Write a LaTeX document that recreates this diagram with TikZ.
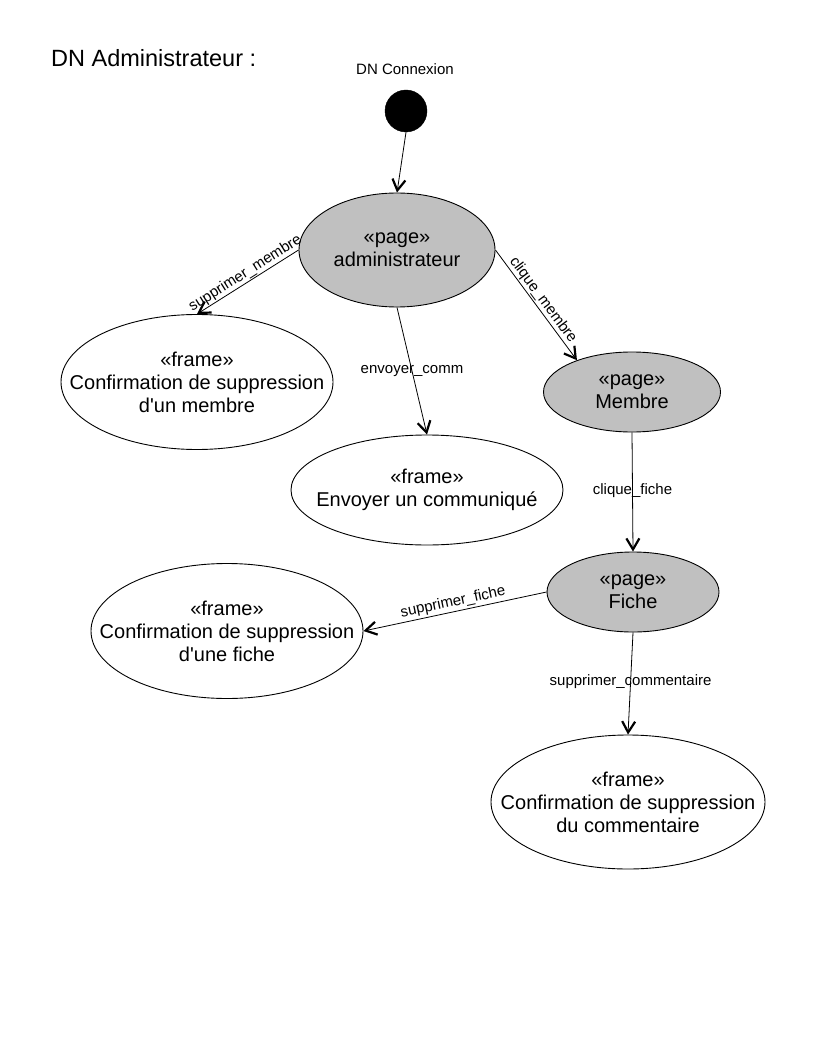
\documentclass[tikz,border=0pt]{standalone}
\usepackage{fontspec}
\setmainfont{Liberation Sans}[Ligatures=TeXOff]
\usetikzlibrary{shapes.geometric,arrows.meta}
\definecolor{pagegray}{RGB}{192,192,192}
\tikzset{
  state/.style={ellipse,draw=black,line width=0.9pt,inner sep=0pt},
  pagestate/.style={state,fill=pagegray},
  framestate/.style={state,fill=white},
  statetext/.style={align=center,inner sep=0pt,font=\fontsize{20}{23}\selectfont},
  flow/.style={draw=black,line width=0.8pt,
    -{Straight Barb[length=11pt,width=13pt,line width=2.2pt]}},
  lbl/.style={font=\fontsize{15}{17}\selectfont,inner sep=2pt},
}
\begin{document}
\begin{tikzpicture}[x=1pt,y=-1pt]
\useasboundingbox[fill=white] (0,0) rectangle (816,1056);

\node[anchor=base west,font=\fontsize{23.5}{27}\selectfont,inner sep=0pt] (title) at (51,67) {DN Administrateur :};

% initial node
\node[circle,fill=black,draw=black,minimum size=42pt,inner sep=0pt] (init) at (406,111) {};
\node[lbl,anchor=base] (initlbl) at (405,75) {DN Connexion};

% pages
\node[pagestate,minimum width=196pt,minimum height=114pt] (admin) at (397,250) {};
\node[statetext] (admintxt) at (admin) {«page»\\administrateur};
\node[pagestate,minimum width=177pt,minimum height=80pt] (membre) at (632,392) {};
\node[statetext] (membretxt) at (membre) {«page»\\Membre};
\node[pagestate,minimum width=172pt,minimum height=80pt] (fiche) at (633,592) {};
\node[statetext] (fichetxt) at (fiche) {«page»\\Fiche};

% frames
\node[framestate,minimum width=272pt,minimum height=135pt] (supmembre) at (197,382) {};
\node[statetext] (supmembretxt) at (supmembre) {«frame»\\Confirmation de suppression\\d'un membre};
\node[framestate,minimum width=272pt,minimum height=110pt] (comm) at (427,490) {};
\node[statetext] (commtxt) at (comm) {«frame»\\Envoyer un communiqué};
\node[framestate,minimum width=272pt,minimum height=135pt] (supfiche) at (227,631) {};
\node[statetext] (supfichetxt) at (supfiche) {«frame»\\Confirmation de suppression\\d'une fiche};
\node[framestate,minimum width=274pt,minimum height=134pt] (supcomm) at (628,802) {};
\node[statetext] (supcommtxt) at (supcomm) {«frame»\\Confirmation de suppression\\du commentaire};

% transitions
\draw[flow] (init.south) -- (admin.north);
\draw[flow] (admin.west) -- node[lbl,sloped,above,pos=0.48,inner sep=1pt] (l1) {supprimer\_membre} (supmembre.north);
\draw[flow] (admin.south) -- node[lbl,pos=0.5] (l2) {envoyer\_comm} (comm.north);
\draw[flow] (admin.east) -- node[lbl,sloped,above,pos=0.5,inner sep=1pt] (l3) {clique\_membre} (membre.150);
\draw[flow] (membre.south) -- node[lbl,pos=0.49] (l4) {clique\_fiche} (fiche.north);
\draw[flow] (fiche.west) -- node[lbl,sloped,above,pos=0.5] (l5) {supprimer\_fiche} (supfiche.east);
\draw[flow] (fiche.south) -- node[lbl,pos=0.485] (l6) {supprimer\_commentaire} (supcomm.north);
\end{tikzpicture}
\end{document}
